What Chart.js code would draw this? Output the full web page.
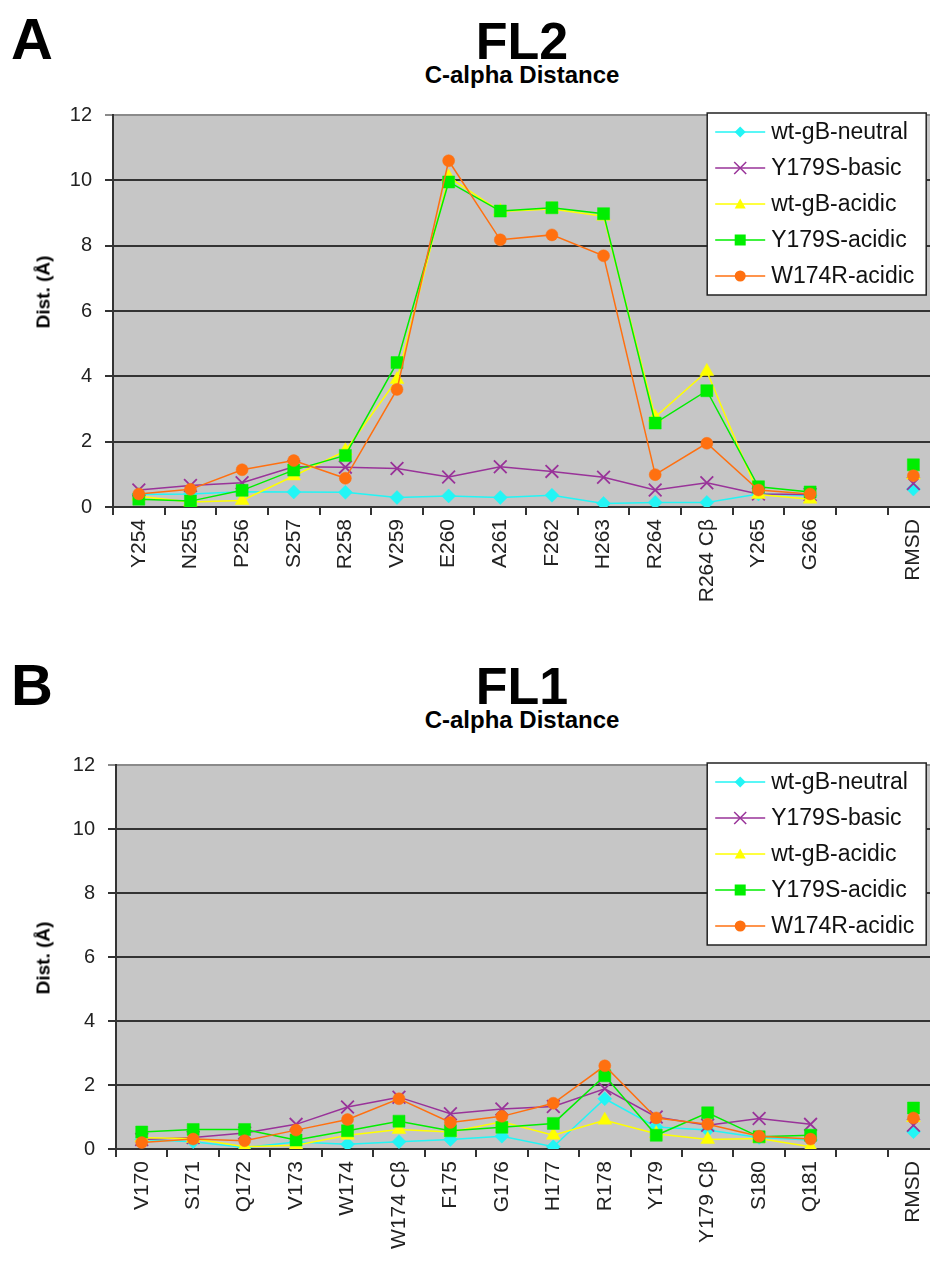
<!DOCTYPE html>
<html>
<head>
<meta charset="utf-8">
<script src="https://cdn.jsdelivr.net/npm/chart.js@4.4.1/dist/chart.umd.min.js"></script>
<style>
  html, body { margin: 0; padding: 0; background: #fff; width: 930px; height: 1272px; overflow: hidden; position: relative; font-family: 'Liberation Sans', Arial, sans-serif; }
  .panel-letter { position: absolute; left: 11px; font-weight: bold; font-size: 58px; line-height: 1; }
  .title { position: absolute; left: 522px; transform: translateX(-50%); font-weight: bold; line-height: 1; white-space: nowrap; }
  .main { font-size: 52px; }
  .sub { font-size: 24px; }
  .ytitle { position: absolute; left: 43px; transform: translate(-50%, -50%) rotate(-90deg); font-weight: bold; font-size: 19px; line-height: 1; white-space: nowrap; z-index: 2; }
  .holder { position: absolute; left: 0; width: 950px; }
  .holder canvas { display: block; }
</style>
</head>
<body>
<div class="panel-letter" style="top:10px">A</div>
<div class="title main" style="top:15px">FL2</div>
<div class="title sub" style="top:63px">C-alpha Distance</div>
<div class="holder" style="top:90px; height:540px"><canvas id="chart-fl2" width="950" height="540" style="width:950px; height:540px"></canvas></div>
<div class="ytitle" style="top:292px">Dist. (Å)</div>

<div class="panel-letter" style="top:656px">B</div>
<div class="title main" style="top:660px">FL1</div>
<div class="title sub" style="top:708px">C-alpha Distance</div>
<div class="holder" style="top:740px; height:532px"><canvas id="chart-fl1" width="950" height="532" style="width:950px; height:532px"></canvas></div>
<div class="ytitle" style="top:958px">Dist. (Å)</div>

<script>
// series names (legend)
const seriesNames = ['wt-gB-neutral', 'Y179S-basic', 'wt-gB-acidic', 'Y179S-acidic', 'W174R-acidic'];
const yTicks = [0, 2, 4, 6, 8, 10, 12];

// FL2 residues
const fl2Labels = ['Y254', 'N255', 'P256', 'S257', 'R258', 'V259', 'E260', 'A261', 'F262', 'H263', 'R264', 'R264 Cβ', 'Y265', 'G266', '', 'RMSD'];
const fl2Neutral = [0.38, 0.40, 0.47, 0.46, 0.45, 0.29, 0.34, 0.29, 0.36, 0.11, 0.14, 0.14, 0.40, 0.35, null, 0.55];
const fl2Basic   = [0.52, 0.66, 0.74, 1.23, 1.22, 1.18, 0.92, 1.23, 1.09, 0.91, 0.52, 0.74, 0.40, 0.38, null, 0.72];
const fl2WtAcid  = [0.33, 0.15, 0.20, 0.95, 1.72, 3.90, 10.1, 9.05, 9.12, 8.90, 2.75, 4.15, 0.38, 0.24, null, 0.98];
const fl2YAcid   = [0.24, 0.18, 0.51, 1.13, 1.58, 4.42, 9.95, 9.06, 9.16, 8.98, 2.57, 3.56, 0.62, 0.46, null, 1.29];
const fl2WAcid   = [0.40, 0.54, 1.14, 1.42, 0.88, 3.60, 10.6, 8.18, 8.33, 7.69, 0.99, 1.95, 0.52, 0.40, null, 0.96];

// FL1 residues
const fl1Labels = ['V170', 'S171', 'Q172', 'V173', 'W174', 'W174 Cβ', 'F175', 'G176', 'H177', 'R178', 'Y179', 'Y179 Cβ', 'S180', 'Q181', '', 'RMSD'];
const fl1Neutral = [0.30, 0.23, 0.05, 0.22, 0.15, 0.23, 0.30, 0.40, 0.07, 1.57, 0.69, 0.59, 0.36, 0.28, null, 0.54];
const fl1Basic   = [0.30, 0.36, 0.50, 0.77, 1.31, 1.62, 1.10, 1.25, 1.33, 1.88, 1.00, 0.74, 0.95, 0.77, null, 0.74];
const fl1WtAcid  = [0.35, 0.33, 0.07, 0.12, 0.43, 0.61, 0.53, 0.85, 0.43, 0.90, 0.48, 0.30, 0.33, 0.07, null, 0.98];
const fl1YAcid   = [0.53, 0.61, 0.61, 0.28, 0.57, 0.87, 0.57, 0.68, 0.80, 2.29, 0.43, 1.13, 0.38, 0.43, null, 1.28];
const fl1WAcid   = [0.20, 0.31, 0.26, 0.59, 0.92, 1.57, 0.83, 1.02, 1.43, 2.60, 0.97, 0.77, 0.40, 0.31, null, 0.97];

// look of each series: colour, marker, marker radius
const seriesStyles = [
    { color: '#22f5f5', point: 'rectRot', radius: 7, order: 5 },
    { color: '#993399', point: 'crossRot', radius: 9, order: 4 },
    { color: '#ffff00', point: 'triangle', radius: 8, order: 3 },
    { color: '#00ee00', point: 'rect', radius: 8.5, order: 2 },
    { color: '#ff7010', point: 'circle', radius: 6, order: 1 }
];

const FONT = "'Liberation Sans', Arial, sans-serif";

// grey plot area like the Excel original
const plotBackground = {
    id: 'plotBackground',
    beforeDraw(chart) {
        const { ctx, chartArea: a } = chart;
        ctx.save();
        ctx.fillStyle = '#c6c6c6';
        ctx.fillRect(a.left, a.top, a.right - a.left, a.bottom - a.top);
        ctx.restore();
    }
};

function drawMarker(ctx, style, x, y, r) {
    ctx.beginPath();
    if (style === 'rectRot') {
        ctx.moveTo(x, y - r); ctx.lineTo(x + r, y); ctx.lineTo(x, y + r); ctx.lineTo(x - r, y); ctx.closePath(); ctx.fill();
    } else if (style === 'crossRot') {
        ctx.moveTo(x - r, y - r); ctx.lineTo(x + r, y + r); ctx.moveTo(x + r, y - r); ctx.lineTo(x - r, y + r); ctx.stroke();
    } else if (style === 'triangle') {
        ctx.moveTo(x, y - r); ctx.lineTo(x + r, y + r * 0.8); ctx.lineTo(x - r, y + r * 0.8); ctx.closePath(); ctx.fill();
    } else if (style === 'rect') {
        ctx.rect(x - r, y - r, 2 * r, 2 * r); ctx.fill();
    } else {
        ctx.arc(x, y, r, 0, Math.PI * 2); ctx.fill();
    }
}

// boxed legend inside the plot, top right
const boxLegend = {
    id: 'boxLegend',
    afterDatasetsDraw(chart) {
        const { ctx, chartArea: a } = chart;
        const w = 219, h = 182;
        const left = a.right - 13 - w, top = a.top - 2;
        ctx.save();
        ctx.fillStyle = '#fff';
        ctx.fillRect(left, top, w, h);
        ctx.strokeStyle = '#222';
        ctx.lineWidth = 1.5;
        ctx.strokeRect(left, top, w, h);
        ctx.font = '23px ' + FONT;
        ctx.textBaseline = 'middle';
        seriesNames.forEach((name, i) => {
            const s = seriesStyles[i];
            const y = top + 19 + i * 36;
            ctx.strokeStyle = s.color;
            ctx.fillStyle = s.color;
            ctx.lineWidth = 1.5;
            ctx.beginPath();
            ctx.moveTo(left + 8, y);
            ctx.lineTo(left + 58, y);
            ctx.stroke();
            drawMarker(ctx, s.point, left + 33, y, s.point === 'crossRot' ? 6 : 5.5);
            ctx.fillStyle = '#111';
            ctx.fillText(name, left + 64, y + 1);
        });
        ctx.restore();
    }
};

function makeChart(canvas, labels, series, box) {
    return new Chart(canvas.getContext('2d'), {
        type: 'line',
        data: {
            labels: labels,
            datasets: series.map((values, i) => ({
                label: seriesNames[i],
                data: values,
                order: seriesStyles[i].order,
                borderColor: seriesStyles[i].color,
                backgroundColor: seriesStyles[i].color,
                borderWidth: 1.5,
                tension: 0,
                spanGaps: false,
                pointStyle: seriesStyles[i].point,
                pointRadius: seriesStyles[i].radius,
                pointHoverRadius: seriesStyles[i].radius,
                pointBackgroundColor: seriesStyles[i].color,
                pointBorderColor: seriesStyles[i].color,
                pointBorderWidth: seriesStyles[i].point === 'crossRot' ? 1.8 : 0.5
            }))
        },
        options: {
            responsive: false,
            maintainAspectRatio: false,
            animation: false,
            layout: { padding: { top: box.padTop, right: box.padRight, left: 0, bottom: 0 } },
            plugins: { legend: { display: false }, tooltip: { enabled: false } },
            scales: {
                x: {
                    offset: true,
                    grid: { drawOnChartArea: false, offset: true, tickLength: 8, color: '#333', lineWidth: 2 },
                    border: { display: true, color: '#333', width: 2 },
                    ticks: { autoSkip: false, minRotation: 90, maxRotation: 90, padding: 4, color: '#222', font: { family: FONT, size: 21 } },
                    afterFit: s => { s.height = box.xHeight; }
                },
                y: {
                    min: 0,
                    max: 12,
                    afterBuildTicks: s => { s.ticks = yTicks.map(v => ({ value: v })); },
                    grid: {
                        tickLength: 8,
                        lineWidth: 2,
                        color: c => (c.tick && c.tick.value === 12 ? '#8a8a8a' : '#333')
                    },
                    border: { display: true, color: '#333', width: 2 },
                    ticks: { padding: 13, color: '#222', font: { family: FONT, size: 20 } },
                    afterFit: s => { s.width = box.yWidth; }
                }
            }
        },
        plugins: [plotBackground, boxLegend]
    });
}

document.addEventListener('DOMContentLoaded', function() {
    makeChart(document.getElementById('chart-fl2'), fl2Labels,
        [fl2Neutral, fl2Basic, fl2WtAcid, fl2YAcid, fl2WAcid],
        { yWidth: 113, xHeight: 123, padTop: 20, padRight: 8 });
    makeChart(document.getElementById('chart-fl1'), fl1Labels,
        [fl1Neutral, fl1Basic, fl1WtAcid, fl1YAcid, fl1WAcid],
        { yWidth: 116, xHeight: 123, padTop: 19, padRight: 5 });
});
</script>
</body>
</html>
